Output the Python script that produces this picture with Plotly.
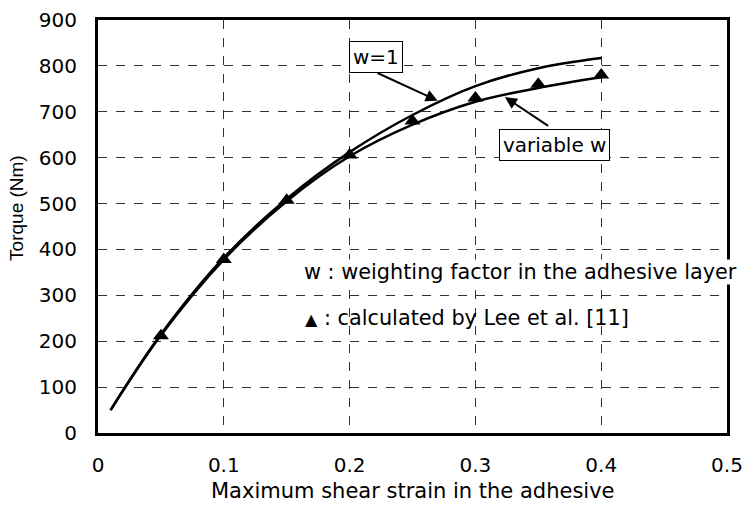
import plotly.graph_objects as go

# Data
strain_w1 = [0.01, 0.05, 0.10, 0.15, 0.20, 0.25, 0.30, 0.35, 0.40]
torque_w1 = [50, 215, 382, 510, 612, 693, 756, 795, 817]

strain_varw = [0.01, 0.05, 0.10, 0.15, 0.20, 0.25, 0.30, 0.35, 0.40]
torque_varw = [50, 213, 378, 505, 603, 672, 722, 752, 775]

strain_lee = [0.05, 0.10, 0.15, 0.20, 0.25, 0.30, 0.35, 0.40]
torque_lee = [212, 378, 507, 606, 680, 730, 760, 780]

x_ticks = [0, 0.1, 0.2, 0.3, 0.4, 0.5]
x_tick_labels = ["0", "0.1", "0.2", "0.3", "0.4", "0.5"]
y_ticks = [0, 100, 200, 300, 400, 500, 600, 700, 800, 900]

FONT = "Liberation Sans, Arial, sans-serif"
WIDE = "DejaVu Sans, sans-serif"

fig = go.Figure()
fig.add_trace(go.Scatter(x=strain_w1, y=torque_w1, mode="lines",
                         line=dict(color="black", width=2.5, shape="spline"),
                         showlegend=False))
fig.add_trace(go.Scatter(x=strain_varw, y=torque_varw, mode="lines",
                         line=dict(color="black", width=2.5, shape="spline"),
                         showlegend=False))
fig.add_trace(go.Scatter(x=strain_lee, y=torque_lee, mode="markers",
                         marker=dict(symbol="triangle-up", size=14, color="black"),
                         showlegend=False))

# boxed labels
fig.add_annotation(x=0.221, y=819, text="w=1", showarrow=False,
                   bordercolor="black", borderwidth=1, bgcolor="white", borderpad=3,
                   font=dict(size=20, color="black", family=WIDE))
fig.add_annotation(x=0.363, y=628, text="variable w", showarrow=False,
                   bordercolor="black", borderwidth=1, bgcolor="white", borderpad=3,
                   font=dict(size=20, color="black", family=WIDE))
# arrows
fig.add_annotation(x=0.270, y=724, ax=0.221, ay=786, axref="x", ayref="y",
                   xref="x", yref="y", text="", showarrow=True,
                   arrowhead=2, arrowsize=1.2, arrowwidth=2, arrowcolor="black")
fig.add_annotation(x=0.3235, y=732, ax=0.359, ay=667, axref="x", ayref="y",
                   xref="x", yref="y", text="", showarrow=True,
                   arrowhead=2, arrowsize=1.2, arrowwidth=2, arrowcolor="black")

# explanatory texts
fig.add_annotation(x=0.163, y=351, xanchor="left", yanchor="middle",
                   text="w : weighting factor in the adhesive layer", showarrow=False,
                   bgcolor="white", borderpad=0,
                   font=dict(size=20.8, color="black", family=WIDE))
fig.add_annotation(x=0.163, y=250, xanchor="left", yanchor="middle",
                   text="<span style='font-size:16px'>▲</span> : calculated by Lee et al. [11]",
                   showarrow=False,
                   font=dict(size=20.8, color="black", family=WIDE))

# axis titles as annotations (positioned as in the reference)
fig.add_annotation(xref="paper", yref="paper", x=0.5, y=-0.14, xanchor="center",
                   yanchor="middle", text="Maximum shear strain in the adhesive",
                   showarrow=False, font=dict(size=21, color="black", family=WIDE))
fig.add_annotation(xref="paper", yref="paper", x=-0.1288, y=0.545, xanchor="center",
                   yanchor="middle", text="Torque (Nm)", textangle=-90,
                   showarrow=False, font=dict(size=19, color="black", family=FONT))

axis_common = dict(showline=True, linecolor="black", linewidth=3, mirror=True,
                   showgrid=True, gridcolor="#333", gridwidth=1, griddash="dash",
                   zeroline=False, ticks="", automargin=False,
                   tickfont=dict(size=20, color="black", family=WIDE))

fig.update_xaxes(range=[0, 0.5], tickvals=x_ticks, ticktext=x_tick_labels,
                 ticklabelstandoff=12, ticklabeloverflow="allow",
                 **axis_common)
fig.update_yaxes(range=[0, 900], tickvals=y_ticks, ticklabelstandoff=14,
                 **axis_common)

fig.update_layout(width=742, height=514, plot_bgcolor="white", paper_bgcolor="white",
                  margin=dict(l=98, r=15, t=20, b=81, autoexpand=False),
                  font=dict(family=FONT, color="black"))

fig.write_html("out.html")
